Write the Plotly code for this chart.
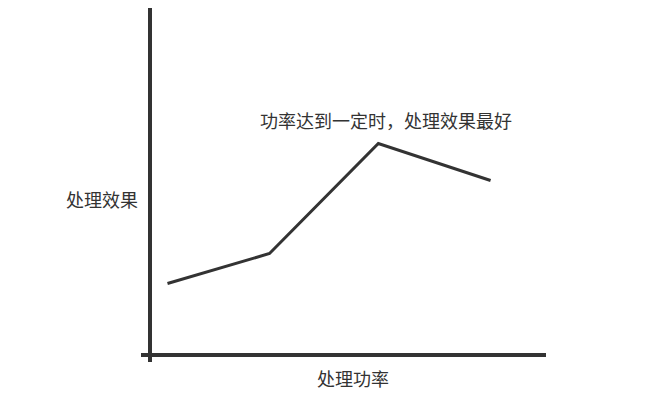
import plotly.graph_objects as go

# Processing power vs. treatment effect (schematic)
power = [0.5, 3.5, 6.7, 10.0]
effect = [3.55, 5.05, 10.55, 8.7]

x_title = "处理功率"
y_title = "处理效果"
note = "功率达到一定时，处理效果最好"

ink = "#333333"
cjk = "Noto Sans CJK SC, Microsoft YaHei, sans-serif"

W, H = 669, 397
L, R, T, B = 141, 123, 8, 35
pw, ph = W - L - R, H - T - B

fig = go.Figure()
fig.add_trace(go.Scatter(
    x=power, y=effect, mode="lines",
    line=dict(color=ink, width=3),
    hoverinfo="skip", showlegend=False,
))

# Axis lines are the zero lines, so they cross slightly at the origin
fig.update_xaxes(
    range=[-0.279, 11.63], showgrid=False, showticklabels=False, ticks="",
    zeroline=True, zerolinecolor=ink, zerolinewidth=3.5, showline=False,
)
fig.update_yaxes(
    range=[-0.375, 17.325], showgrid=False, showticklabels=False, ticks="",
    zeroline=True, zerolinecolor=ink, zerolinewidth=3.5, showline=False,
)

def px(xp):
    return (xp - L) / pw

def py(yp):
    return (H - B - yp) / ph

fig.add_annotation(text=note, x=px(386), y=py(120), xref="paper", yref="paper",
                   showarrow=False, font=dict(family=cjk, size=18, color=ink),
                   xanchor="center", yanchor="middle")
fig.add_annotation(text=y_title, x=px(102), y=py(199), xref="paper", yref="paper",
                   showarrow=False, font=dict(family=cjk, size=18, color=ink),
                   xanchor="center", yanchor="middle")
fig.add_annotation(text=x_title, x=px(353), y=py(378), xref="paper", yref="paper",
                   showarrow=False, font=dict(family=cjk, size=18, color=ink),
                   xanchor="center", yanchor="middle")

fig.update_layout(
    width=W, height=H,
    margin=dict(l=L, r=R, t=T, b=B),
    paper_bgcolor="white", plot_bgcolor="white",
)

fig.write_html("out.html", config={"displayModeBar": False})
